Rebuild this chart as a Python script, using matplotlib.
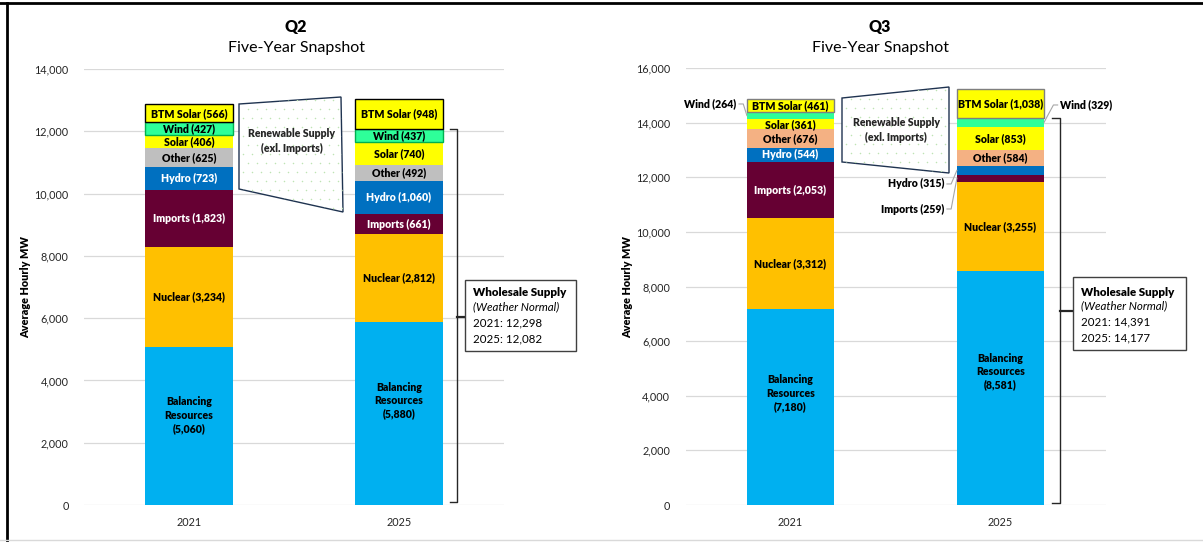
import numpy as np
import matplotlib
matplotlib.use("Agg")
import matplotlib.pyplot as plt
from matplotlib.patches import Polygon, Rectangle
from matplotlib.lines import Line2D

plt.rcParams['font.family'] = ['Lato', 'DejaVu Sans']

W, H = 1203, 542

# ---- data -------------------------------------------------------------
years = ["2021", "2025"]
segment_names = ["Balancing\nResources", "Nuclear", "Imports", "Hydro",
                 "Other", "Solar", "Wind", "BTM Solar"]

q2_balancing = [5060, 5880]
q2_nuclear = [3234, 2812]
q2_imports = [1823, 661]
q2_hydro = [723, 1060]
q2_other = [625, 492]
q2_solar = [406, 740]
q2_wind = [427, 437]
q2_btm_solar = [566, 948]
q2_wholesale = [12298, 12082]

q3_balancing = [7180, 8581]
q3_nuclear = [3312, 3255]
q3_imports = [2053, 259]
q3_hydro = [544, 315]
q3_other = [676, 584]
q3_solar = [361, 853]
q3_wind = [264, 329]
q3_btm_solar = [461, 1038]
q3_wholesale = [14391, 14177]

# ---- styling ----------------------------------------------------------
BLUE_LIGHT = "#00B0F0"
NUCLEAR = "#FFC000"
IMPORTS = "#660033"
HYDRO = "#0070C0"
SOLAR = "#FFFF00"
WIND = "#2EFF99"
GRID = "#D9D9D9"
TXT = "#262626"

q2_colors = [BLUE_LIGHT, NUCLEAR, IMPORTS, HYDRO, "#BFBFBF", SOLAR, WIND, SOLAR]
q3_colors = [BLUE_LIGHT, NUCLEAR, IMPORTS, HYDRO, "#F4B183", SOLAR, WIND, SOLAR]
q2_edges = [None, None, None, None, None, None, "#00B050", "#000000"]
q3_edges = [None, None, None, None, None, None, None, "#7F7F7F"]
label_colors = ["#000000", "#000000", "white", "white", "#000000", "#000000",
                "#000000", "#000000"]

BAR_W = 0.415
LABEL_FS = 7.6
LABEL_W = "heavy"


def px(x, y):
    """Pixel position -> figure fraction."""
    return x / W, 1 - y / H


fig = plt.figure(figsize=(W / 100, H / 100), dpi=100)
fig.patch.set_facecolor("white")


def make_axes(x0, x1, y_top, y_bot, ymax):
    ax = fig.add_axes([x0 / W, 1 - y_bot / H, (x1 - x0) / W, (y_bot - y_top) / H])
    ax.set_xlim(-0.5, 1.5)
    ax.set_ylim(0, ymax)
    ax.set_yticks(range(0, ymax + 1, 2000))
    ax.set_yticklabels([f"{v:,}" for v in range(0, ymax + 1, 2000)])
    ax.set_xticks([0, 1])
    ax.set_xticklabels(years)
    ax.tick_params(length=0, labelsize=7.8, labelcolor=TXT)
    ax.tick_params(axis="y", pad=11)
    ax.tick_params(axis="x", pad=9)
    for s in ax.spines.values():
        s.set_visible(False)
    ax.grid(axis="y", color=GRID, lw=0.9)
    ax.set_axisbelow(True)
    ax.set_ylabel("Average Hourly MW", fontsize=7.8, fontweight=LABEL_W,
                  color="#000000")
    return ax


def draw_stack(ax, series, colors, edges, inside):
    for i in range(len(years)):
        bottom = 0
        for k, vals in enumerate(series):
            v = vals[i]
            ec = edges[k]
            ax.bar(i, v, bottom=bottom, width=BAR_W, color=colors[k],
                   edgecolor=ec if ec else colors[k], linewidth=1.0 if ec else 0,
                   zorder=3 if ec else 2)
            if (i, k) in inside:
                name = segment_names[k]
                ypos = bottom + v / 2
                if k == 0:
                    ypos = bottom + v * 0.57
                ax.text(i, ypos, f"{name}\n({v:,})" if k == 0 else f"{name} ({v:,})",
                        ha="center", va="center", fontsize=LABEL_FS,
                        fontweight=LABEL_W, color=label_colors[k],
                        linespacing=1.25, zorder=4)
            bottom += v


def bracket(ax, total, x_in, x_out, x_box):
    ax.plot([x_in, x_out, x_out, x_in], [total, total, 90, 90],
            color=TXT, lw=1.0, zorder=5, clip_on=False, solid_joinstyle="round")
    ax.plot([x_out, x_box], [total / 2, total / 2], color=TXT, lw=1.6,
            zorder=5, clip_on=False)


def info_box(x0, y0, x1, y1, totals, tx, lines_y):
    fig.add_artist(Rectangle(px(x0, y1), (x1 - x0) / W, (y1 - y0) / H,
                             transform=fig.transFigure, facecolor="white",
                             edgecolor="#404040", lw=1.0))
    fig.text(*px(tx, lines_y[0]), "Wholesale Supply", fontsize=8.3,
             fontweight=LABEL_W, color="#000000", va="center")
    fig.text(*px(tx, lines_y[1]), "(Weather Normal)", fontsize=8.3,
             style="italic", color="#000000", va="center")
    fig.text(*px(tx, lines_y[2]), f"{years[0]}: {totals[0]:,}", fontsize=8.3,
             color="#000000", va="center")
    fig.text(*px(tx, lines_y[3]), f"{years[1]}: {totals[1]:,}", fontsize=8.3,
             color="#000000", va="center")


def renewable_shape(pts, text_xy):
    poly_pts = [px(*p) for p in pts]
    fill = Polygon(poly_pts, closed=True, transform=fig.transFigure,
                   facecolor="white", edgecolor="none")
    fig.add_artist(fill)
    # light dotted texture inside the shape
    xs = [p[0] for p in pts]
    ys = [p[1] for p in pts]
    gx, gy = np.meshgrid(np.arange(min(xs) + 4, max(xs), 9.0),
                         np.arange(min(ys) + 3, max(ys), 9.0))
    gx = gx + (np.arange(gx.shape[0])[:, None] % 2) * 4.5
    dots = Line2D(gx.ravel() / W, 1 - gy.ravel() / H, transform=fig.transFigure,
                  linestyle="none", marker="o", markersize=1.1,
                  markerfacecolor="#BFE3B4", markeredgewidth=0)
    fig.add_artist(dots)
    dots.set_clip_path(fill)
    fig.add_artist(Polygon(poly_pts, closed=True, transform=fig.transFigure,
                           facecolor="none", edgecolor="#1F3350", lw=1.0))
    fig.text(*px(*text_xy), "Renewable Supply\n(exl. Imports)", ha="center",
             va="center", fontsize=LABEL_FS, fontweight=LABEL_W, color=TXT,
             linespacing=1.4)


# ---- Q2 panel ---------------------------------------------------------
ax1 = make_axes(84, 504, 69, 505, 14000)
q2_series = [q2_balancing, q2_nuclear, q2_imports, q2_hydro, q2_other,
             q2_solar, q2_wind, q2_btm_solar]
draw_stack(ax1, q2_series, q2_colors, q2_edges,
           {(i, k) for i in range(2) for k in range(8)})
bracket(ax1, q2_wholesale[1], 1.243, 1.277, 1.315)
ax1.yaxis.set_label_coords(-0.125, 0.5)
fig.text(*px(296, 27), "Q2", ha="center", va="center", fontsize=11.5,
         fontweight=LABEL_W, color="#000000")
fig.text(*px(296, 48), "Five-Year Snapshot", ha="center", va="center",
         fontsize=11.5, color="#000000")
info_box(465, 280, 576, 351, q2_wholesale, 473, [293, 307, 323, 339])
renewable_shape([(239, 104), (341, 97), (343, 212), (239, 189)], (292, 141))

# ---- Q3 panel ---------------------------------------------------------
ax2 = make_axes(685.5, 1105.5, 68, 505, 16000)
q3_series = [q3_balancing, q3_nuclear, q3_imports, q3_hydro, q3_other,
             q3_solar, q3_wind, q3_btm_solar]
inside_q3 = {(i, k) for i in range(2) for k in range(8)} - {(0, 6), (1, 2), (1, 3), (1, 6)}
draw_stack(ax2, q3_series, q3_colors, q3_edges, inside_q3)
bracket(ax2, q3_wholesale[1], 1.243, 1.283, 1.345)
ax2.yaxis.set_label_coords(-0.125, 0.5)
fig.text(*px(880, 27), "Q3", ha="center", va="center", fontsize=11.5,
         fontweight=LABEL_W, color="#000000")
fig.text(*px(880, 48), "Five-Year Snapshot", ha="center", va="center",
         fontsize=11.5, color="#000000")
info_box(1073, 277, 1186, 350, q3_wholesale, 1081, [292, 306, 322, 338])
renewable_shape([(842, 98), (949, 87), (949, 173), (842, 162)], (896, 130))


def outside_label(ax, i, k, series, text_x, text_y, side):
    """Label a thin segment outside the bar with a leader line."""
    bottom = sum(s[i] for s in series[:k])
    v = series[k][i]
    mid = bottom + v / 2
    name = segment_names[k]
    sign = 1 if side == "right" else -1
    edge = i + sign * BAR_W / 2
    knee = text_x - sign * 0.02
    ax.plot([text_x, knee, edge], [text_y, text_y, mid], color="#A6A6A6",
            lw=0.8, zorder=5, clip_on=False)
    ax.text(text_x + sign * 0.012, text_y,
            f"{name} ({v:,})", ha="left" if side == "right" else "right",
            va="center", fontsize=LABEL_FS, fontweight=LABEL_W, color="#000000",
            zorder=5, clip_on=False)


outside_label(ax2, 0, 6, q3_series, -0.245, 14683, "left")
outside_label(ax2, 1, 6, q3_series, 1.272, 14646, "right")
outside_label(ax2, 1, 3, q3_series, 0.745, 11754, "left")
outside_label(ax2, 1, 2, q3_series, 0.745, 10838, "left")

# ---- outer frame ------------------------------------------------------
fig.add_artist(Line2D([0, 1], [1 - 3 / H, 1 - 3 / H], transform=fig.transFigure,
                      color="#000000", lw=2.0))
fig.add_artist(Line2D([7 / W, 7 / W], [0, 1 - 3 / H], transform=fig.transFigure,
                      color="#000000", lw=2.0))
fig.add_artist(Line2D([0, 1], [2 / H, 2 / H], transform=fig.transFigure,
                      color="#D9D9D9", lw=1.0))

fig.savefig("out.png", dpi=100, facecolor="white")
